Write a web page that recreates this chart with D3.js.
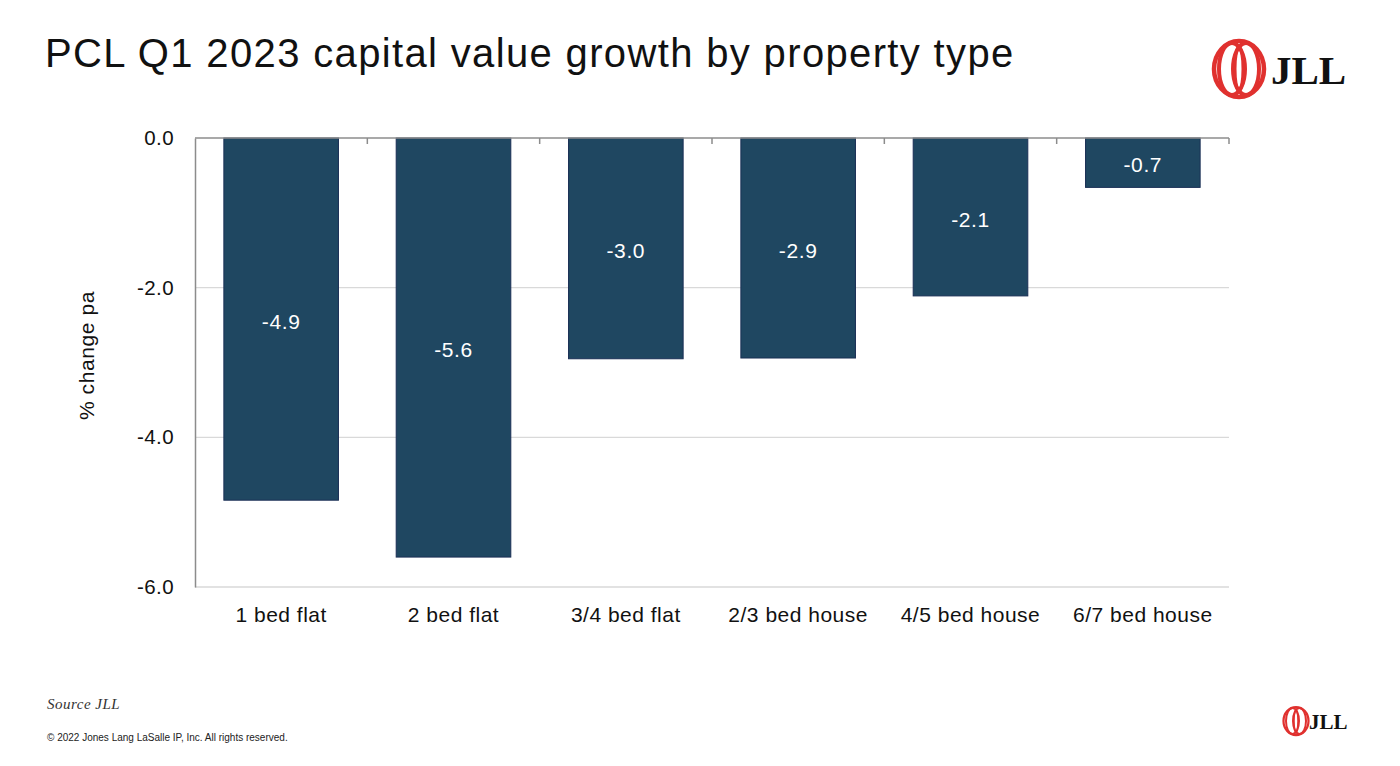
<!DOCTYPE html>
<html><head><meta charset="utf-8">
<script src="https://cdn.jsdelivr.net/npm/d3@7"></script>
<style>body{margin:0;background:#fff}svg{display:block}</style>
</head><body>
<svg id="c" width="1400" height="766"></svg>
<script>
const categories = ["1 bed flat","2 bed flat","3/4 bed flat","2/3 bed house","4/5 bed house","6/7 bed house"];
const values = [-4.84, -5.6, -2.95, -2.94, -2.11, -0.66];
const labels = ["-4.9","-5.6","-3.0","-2.9","-2.1","-0.7"];
const yTicks = [0, -2, -4, -6];

const svg = d3.select("#c");
const font = "'Liberation Sans', Arial, Helvetica, sans-serif";
const L = 195, R = 1229, T = 138, B = 587;

const x = d3.scaleBand().domain(categories).range([L, R]).paddingInner(0.335).paddingOuter(0.1675);
const y = d3.scaleLinear().domain([0, -6]).range([T, B]);

// title
svg.append("text").attr("x", 45).attr("y", 67).attr("font-family", font).attr("font-size", 40)
  .attr("letter-spacing", 1.35).attr("fill", "#111").text("PCL Q1 2023 capital value growth by property type");

// gridlines
svg.append("g").selectAll("line").data(yTicks.filter(d => d !== 0)).join("line")
  .attr("x1", L).attr("x2", R).attr("y1", d => y(d)).attr("y2", d => y(d))
  .attr("stroke", "#d9d9d9").attr("stroke-width", 1.3);

// bars
svg.append("g").selectAll("rect").data(values).join("rect")
  .attr("x", (d, i) => x(categories[i])).attr("width", x.bandwidth())
  .attr("y", y(0)).attr("height", d => y(d) - y(0))
  .attr("fill", "#1f4761").attr("stroke", "#1a2f55").attr("stroke-width", 1);

// value labels
svg.append("g").selectAll("text").data(values).join("text")
  .attr("x", (d, i) => x(categories[i]) + x.bandwidth() / 2)
  .attr("y", d => (y(0) + y(d)) / 2 + 2).attr("dy", "0.36em")
  .attr("text-anchor", "middle").attr("font-family", font).attr("font-size", 21)
  .attr("letter-spacing", 0.6).attr("fill", "#fff").text((d, i) => labels[i]);

// left axis
const yAxis = d3.axisLeft(y).tickValues(yTicks).tickFormat(d3.format(".1f")).tickSize(0).tickPadding(21);
const ga = svg.append("g").attr("transform", `translate(${L},0)`).call(yAxis);
ga.select(".domain").attr("stroke", "#8c8c8c").attr("stroke-width", 1.5);
ga.selectAll("text").attr("font-family", font).attr("font-size", 20.5).attr("letter-spacing", 0.4).attr("fill", "#111")
  .text(d => d === 0 ? "0.0" : d3.format(".1f")(d).replace("−", "-"));

// top (zero) axis with ticks down at category boundaries
const bounds = d3.range(categories.length + 1).map(i => L + i * (R - L) / categories.length);
svg.append("line").attr("x1", L).attr("x2", R).attr("y1", y(0)).attr("y2", y(0))
  .attr("stroke", "#8c8c8c").attr("stroke-width", 1.5);
svg.append("g").selectAll("line").data(bounds.slice(1)).join("line")
  .attr("x1", d => d).attr("x2", d => d).attr("y1", y(0)).attr("y2", y(0) + 6)
  .attr("stroke", "#8c8c8c").attr("stroke-width", 1.5);

// category labels
const xAxis = d3.axisBottom(x).tickSize(0).tickPadding(20);
const gx = svg.append("g").attr("transform", `translate(0,${B})`).call(xAxis);
gx.select(".domain").remove();
gx.selectAll("text").attr("font-family", font).attr("font-size", 21).attr("letter-spacing", 0.5).attr("fill", "#111");

// y axis title
svg.append("text").attr("transform", `translate(94,${(T + B) / 2 - 7}) rotate(-90)`)
  .attr("text-anchor", "middle").attr("font-family", font).attr("font-size", 21).attr("letter-spacing", 0.6).attr("fill", "#111")
  .text("% change pa");

// source and copyright
svg.append("text").attr("x", 47).attr("y", 709).attr("font-family", "'Liberation Serif', 'Times New Roman', serif")
  .attr("font-style", "italic").attr("font-size", 15).attr("fill", "#333").attr("letter-spacing", 0.5).text("Source JLL");
svg.append("text").attr("x", 47).attr("y", 741).attr("font-family", font).attr("font-size", 10)
  .attr("fill", "#222").text("© 2022 Jones Lang LaSalle IP, Inc. All rights reserved.");

// logos
function logo(cx, cy, s, tx, fs) {
  const g = svg.append("g");
  const red = "#e0312f";
  g.append("ellipse").attr("cx", cx).attr("cy", cy).attr("rx", 25 * s).attr("ry", 28 * s)
    .attr("fill", "none").attr("stroke", red).attr("stroke-width", 4.5 * s);
  [-7, 7].forEach(o => g.append("ellipse").attr("cx", cx + o * s).attr("cy", cy).attr("rx", 13 * s).attr("ry", 26 * s)
    .attr("fill", "none").attr("stroke", red).attr("stroke-width", 4 * s));
  g.append("ellipse").attr("cx", cx).attr("cy", cy).attr("rx", 4 * s).attr("ry", 22 * s)
    .attr("fill", "none").attr("stroke", red).attr("stroke-width", 3 * s);
  g.append("text").attr("x", tx).attr("y", cy + fs * 0.36).attr("font-family", "'Liberation Serif', 'Times New Roman', serif")
    .attr("font-weight", "bold").attr("font-size", fs).attr("fill", "#111").text("JLL");
}
logo(1239, 69, 1, 1271, 41);
logo(1296, 721, 0.5, 1309, 21);
</script>
</body></html>
